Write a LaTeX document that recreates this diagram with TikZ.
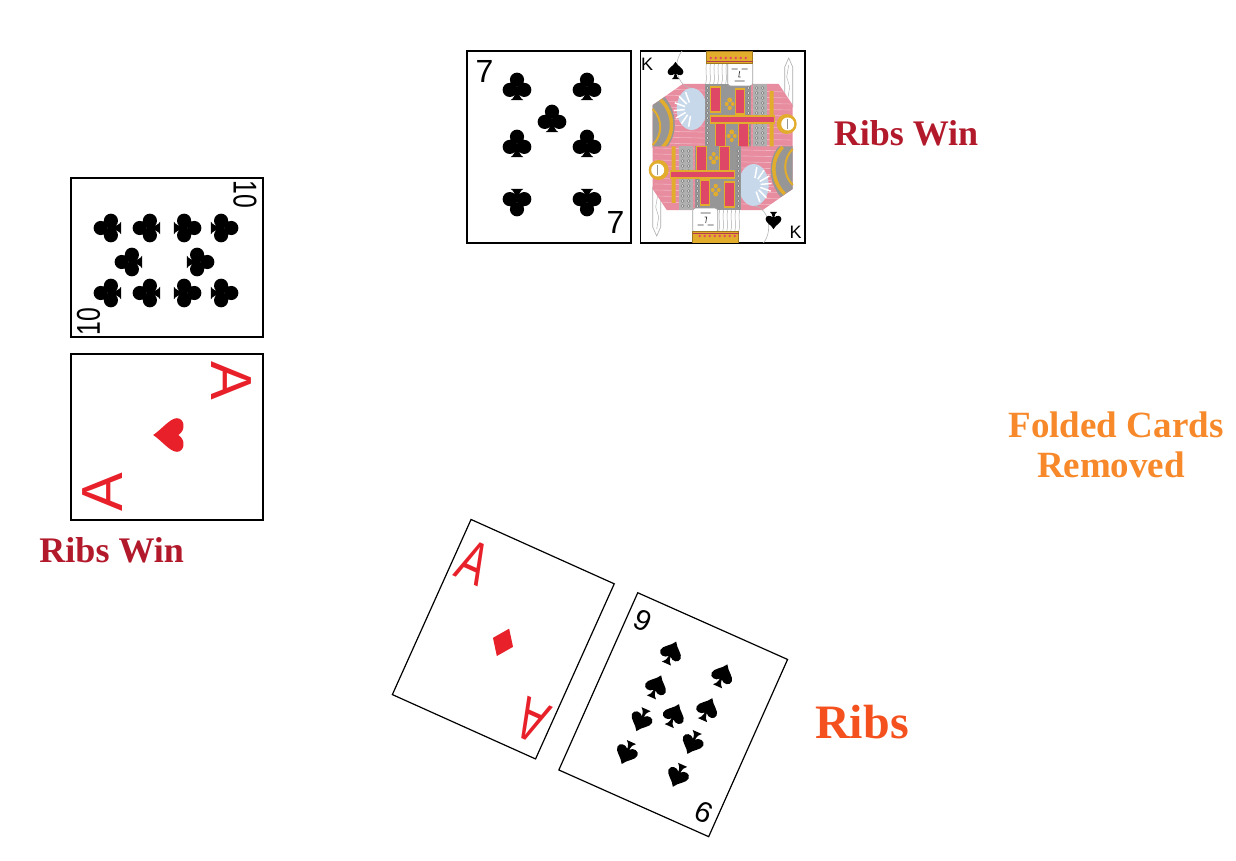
\documentclass[tikz,border=0pt]{standalone}
\usepackage{fontspec}
\setmainfont{Liberation Serif}
\newfontfamily\idxfont{Liberation Sans}
\definecolor{ribswin}{RGB}{178,25,43}
\definecolor{folded}{RGB}{247,137,42}
\definecolor{ribsc}{RGB}{244,81,30}
\definecolor{cardred}{RGB}{232,32,42}
\definecolor{kpink}{RGB}{232,140,160}
\definecolor{kgray}{RGB}{150,150,150}
\definecolor{kgold}{RGB}{226,172,45}
\definecolor{kblue}{RGB}{198,216,234}
\definecolor{kred}{RGB}{222,72,102}
\tikzset{
  card/.style={draw=black, line width=1.2pt, fill=white, inner sep=0pt},
  lbl/.style={font=\bfseries\fontsize{36}{40}\selectfont, inner sep=0pt, anchor=base},
  idx/.style={inner sep=0pt, anchor=center},
  clubpip/.pic={
    \fill (0,-7.5) circle (7.3) (-7.5,3) circle (7.3) (7.5,3) circle (7.3);
    \fill (-1.6,0) .. controls (-1.6,8) and (-3,11.5) .. (-6.5,13.5) -- (6.5,13.5) .. controls (3,11.5) and (1.6,8) .. (1.6,0) -- cycle;},
  spadepip/.pic={
    \fill (0,-12) .. controls (3,-6) and (11,-3) .. (11,2) .. controls (11,7) and (4,8) .. (1,4)
      .. controls (1.5,8) and (3,11) .. (5,12) -- (-5,12) .. controls (-3,11) and (-1.5,8) .. (-1,4)
      .. controls (-4,8) and (-11,7) .. (-11,2) .. controls (-11,-3) and (-3,-6) .. (0,-12) -- cycle;},
  heartpip/.pic={
    \fill (0,12) .. controls (-4,6) and (-12,0) .. (-12,-5) .. controls (-12,-10) and (-4,-12) .. (0,-6)
      .. controls (4,-12) and (12,-10) .. (12,-5) .. controls (12,0) and (4,6) .. (0,12) -- cycle;},
  diamondpip/.pic={\fill (0,-15) -- (11,0) -- (0,15) -- (-11,0) -- cycle;}
}
\newcommand\kinghalf{%
  % sword
  \draw[kgray!80, fill=white, line width=0.6pt] (62,-40) -- (62,-80) -- (66,-89) -- (70,-80) -- (70,-40) -- cycle;
  \draw[kgray!70, line width=0.5pt] (66,-82) -- (64,-70) -- (67,-60) -- (65,-48);
  % body
  \fill[kpink] (-70,0.6) -- (-70,-42) -- (-40,-63) -- (56,-63) -- (70,-42) -- (70,0.6) -- cycle;
  \foreach \yy in {-58,-52,...,-4}{\draw[white, opacity=0.35, line width=0.6pt] (-68,\yy) -- (68,\yy+3);}
  % left gray + gold arc
  \fill[kgray] (-70,-42) -- (-58,-50) .. controls (-46,-36) and (-44,-14) .. (-56,0.6) -- (-70,0.6) -- cycle;
  \draw[kgold, line width=3.5pt] (-62,-47) .. controls (-49,-35) and (-47,-13) .. (-60,0);
  \draw[kgold, line width=2pt] (-70,-38) .. controls (-60,-28) and (-60,-12) .. (-70,-2);
  % sleeve
  \fill[kblue] (-31,-38) ellipse (15 and 21);
  \foreach \a in {100,125,150,175,200,225,250}{\draw[white, line width=1.5pt] (-31,-38) ++(\a:7) -- ++(\a:11);}
  \draw[kgray!70, line width=0.6pt] (-31,-59) arc (90:270:15 and 21);
  % central band
  \fill[kgray] (-18,-63) rectangle (28,0.6);
  \fill[kgray!75] (30,-63) rectangle (44,0.6);
  \foreach \yy in {-59,-54,...,-4}{\filldraw[fill=white, draw=kgray!60!black, line width=0.3pt] (-15.5,\yy) circle (1.4) (25.5,\yy) circle (1.4) (34,\yy) circle (1.4) (40,\yy) circle (1.4);}
  % red bars
  \filldraw[fill=kred, draw=kgold, line width=1.2pt] (-12,-60) rectangle (-2,-35);
  \filldraw[fill=kred, draw=kgold, line width=1.2pt] (13,-58) rectangle (22,-33);
  \filldraw[fill=kred, draw=kgold, line width=1.2pt] (-12,-31) rectangle (52,-24);
  \filldraw[fill=kred, draw=kgold, line width=1.2pt] (-7,-24) rectangle (3,0.6);
  \filldraw[fill=kred, draw=kgold, line width=1.2pt] (16,-24) rectangle (26,0.6);
  % ornaments
  \fill[kgold] (7,-47) circle (2.5) (4,-43) circle (2) (10,-43) circle (2) (7,-39) circle (2.2);
  \fill[kgold] (9,-15) circle (2.5) (6,-11) circle (2) (12,-11) circle (2) (9,-7) circle (2);
  % gold strip right
  \fill[kgold] (47,-56) rectangle (51,-31) (47,-24) rectangle (51,0.6);
  % ring
  \fill[kgold] (64,-23) circle (10);
  \fill[white] (65,-23) circle (6.5);
  \draw[kgray, line width=0.6pt] (65,-28) -- (65,-18);
  % hair
  \fill[white] (-18,-86) rectangle (5,-63);
  \foreach \xx in {-16,-12,...,4}{\draw[kgray!80, line width=0.5pt] (\xx,-85) .. controls (\xx-2,-75) and (\xx+1,-70) .. (\xx-1,-63);}
  % face
  \filldraw[fill=white, draw=kgray!90, line width=0.6pt, rounded corners=3pt] (5,-86) rectangle (30,-61);
  \draw[kgray!40!black, line width=0.7pt] (9,-78) -- (15,-78) (19,-78) -- (25,-78) (17,-76) -- (16,-70) -- (18,-70) (12,-66) -- (22,-66);
  % crown
  \filldraw[fill=kgold, draw=kgold!70!black, line width=0.5pt] (-16,-96) rectangle (30,-84);
  \foreach \xx in {-12,-7,...,27}{\fill[kred] (\xx,-89) circle (1.3);}
  \draw[kred!80!black, line width=0.5pt] (-16,-86) -- (30,-86);
}
\begin{document}
\begin{tikzpicture}[x=1pt, y=-1pt]
\useasboundingbox (0,0) rectangle (1236,861);
\fill[white] (0,0) rectangle (1236,861);

% ---- 7 of clubs ----
\node[card, minimum width=164pt, minimum height=192pt] (seven) at (549,147) {};
\node[idx, font=\idxfont\fontsize{32}{32}\selectfont] (sevenA) at (484.5,71.5) {7};
\node[idx, font=\idxfont\fontsize{32}{32}\selectfont] (sevenB) at (615.5,222.5) {7};
\foreach \px/\py/\rr in {517/87/0, 587/87/0, 552/119/0, 517/144/0, 587/144/0, 517/202/180, 587/202/180}
  {\pic[scale=0.97, rotate=\rr] at (\px,\py) {clubpip};}

% ---- King of spades ----
\node[card, minimum width=164pt, minimum height=192pt] (king) at (722.7,147) {};
\begin{scope}
  \clip (640.7,51) rectangle (804.7,243);
  \begin{scope}[shift={(722.7,147)}] \kinghalf \end{scope}
  \begin{scope}[shift={(722.7,147)}, rotate=180] \kinghalf \end{scope}
\end{scope}
\draw[line width=1.2pt] (king.north west) rectangle (king.south east);
\node[idx, font=\idxfont\fontsize{18}{18}\selectfont] (kingA) at (647,64.5) {K};
\node[idx, font=\idxfont\fontsize{18}{18}\selectfont] (kingB) at (795.5,232.5) {K};
\pic[scale=0.72] at (675.5,70.5) {spadepip};
\pic[scale=0.72, rotate=180] at (773.5,220.5) {spadepip};

% ---- 10 of clubs (sideways) ----
\node[card, minimum width=192pt, minimum height=159pt] (ten) at (167,257.5) {};
\node[idx, font=\idxfont\fontsize{33}{33}\selectfont, rotate=-90, xscale=0.75] (tenA) at (245,194.5) {10};
\node[idx, font=\idxfont\fontsize{33}{33}\selectfont, rotate=90, xscale=0.75] (tenB) at (88.5,321.5) {10};
\foreach \px/\py in {108/228, 147/228, 129/262, 108/293, 147/293}
  {\pic[scale=0.97, rotate=90] at (\px,\py) {clubpip};}
\foreach \px/\py in {187/228, 224/228, 200/262, 187/293, 224/293}
  {\pic[scale=0.97, rotate=-90] at (\px,\py) {clubpip};}

% ---- Ace of hearts (sideways) ----
\node[card, minimum width=192pt, minimum height=166pt] (aceH) at (167,437) {};
\node[idx, text=cardred, font=\idxfont\fontsize{58}{58}\selectfont, rotate=-90] (aceHA) at (231.7,380.7) {A};
\node[idx, text=cardred, font=\idxfont\fontsize{58}{58}\selectfont, rotate=90] (aceHB) at (102.5,492) {A};
\pic[cardred, scale=1.4, rotate=-90] at (170,435) {heartpip};

% ---- Ace of diamonds (tilted) ----
\begin{scope}[shift={(503.3,639.2)}, rotate=-24.2, transform shape]
  \node[card, minimum width=157pt, minimum height=192pt] (aceD) at (0,0) {};
  \node[idx, text=cardred, font=\idxfont\fontsize{60}{60}\selectfont, xscale=0.7] (aceDA) at (-59,-58) {A};
  \node[idx, text=cardred, font=\idxfont\fontsize{60}{60}\selectfont, rotate=180, xscale=0.7] (aceDB) at (60,62) {A};
  \pic[cardred] at (1,3) {diamondpip};
\end{scope}

% ---- 9 of spades (tilted) ----
\begin{scope}[shift={(673.2,714.7)}, rotate=-24, transform shape]
  \node[card, minimum width=164pt, minimum height=194pt] (nine) at (0,0) {};
  \node[idx, font=\idxfont\fontsize{29}{29}\selectfont] (nineA) at (-66,-74) {9};
  \node[idx, font=\idxfont\fontsize{29}{29}\selectfont, rotate=180] (nineB) at (68,77) {9};
  \foreach \px/\py in {-27/-56, 29/-56, -27/-19, 29/-19, 1/0}
    {\pic at (\px,\py) {spadepip};}
  \foreach \px/\py in {-27/18, 29/18, -27/54, 29/54}
    {\pic[rotate=180] at (\px,\py) {spadepip};}
\end{scope}

% ---- labels ----
\node[lbl, text=ribswin] (winTop) at (906,145.5) {Ribs Win};
\node[lbl, text=ribswin] (winLeft) at (111.7,562.7) {Ribs Win};
\node[lbl, text=folded, font=\bfseries\fontsize{37}{40}\selectfont] (fold1) at (1116,437) {Folded Cards};
\node[lbl, text=folded, font=\bfseries\fontsize{37}{40}\selectfont] (fold2) at (1111,477) {Removed};
\node[lbl, text=ribsc, font=\bfseries\fontsize{48}{52}\selectfont] (ribs) at (862,738) {Ribs};
\end{tikzpicture}
\end{document}
